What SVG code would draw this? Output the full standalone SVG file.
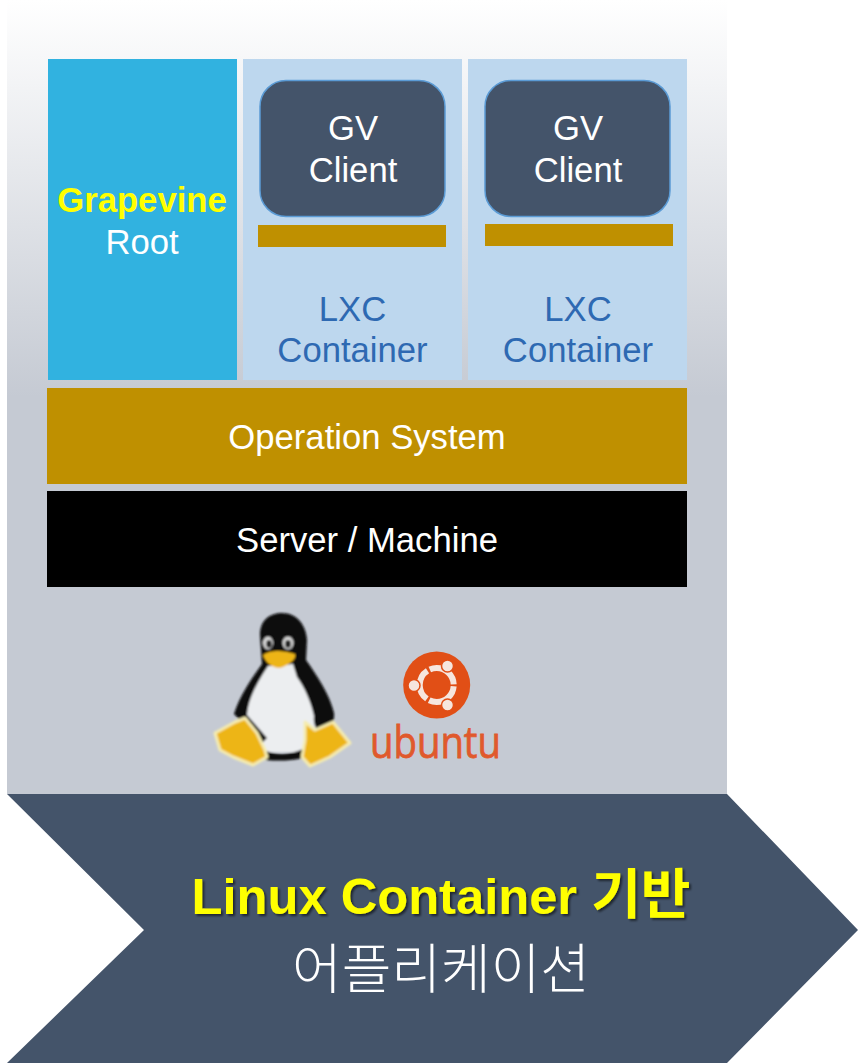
<svg xmlns="http://www.w3.org/2000/svg" width="858" height="1063" viewBox="0 0 858 1063">
<defs>
<linearGradient id="bg" x1="0" y1="0" x2="0" y2="1"><stop offset="0" stop-color="#ffffff"/><stop offset="0.5" stop-color="#c5cad3"/><stop offset="1" stop-color="#c5cad3"/></linearGradient>
<filter id="sh" x="-5%" y="-20%" width="110%" height="140%"><feDropShadow dx="2" dy="2" stdDeviation="1.2" flood-color="#000" flood-opacity="0.55"/></filter>
<filter id="blur" x="-10%" y="-10%" width="120%" height="120%"><feGaussianBlur stdDeviation="1"/></filter>
</defs>
<style>
text{font-family:"Liberation Sans","Noto Sans CJK KR",sans-serif;text-anchor:middle}
.w{fill:#fff}.b{fill:#2e69b2}.t{font-size:34.67px}.g{fill:#bf9000}.c{fill:#bdd7ee}
.cl{fill:#44546a;stroke:#5b9bd5;stroke-width:1.5}
.foot{fill:#edb514;stroke:#f5ecb0;stroke-width:3;stroke-linejoin:round}
.dot{fill:#f6e6de;stroke:#e14f16;stroke-width:1.5}
</style>
<rect id="background" x="7" y="0" width="720" height="794" fill="url(#bg)"/>
<g id="root"><rect x="48" y="59" width="189" height="321" fill="#31b2e0"/><text class="t" x="142" y="212" font-weight="700" fill="#ffff00">Grapevine</text><text class="w t" x="142" y="254">Root</text></g>
<g id="lxc1"><rect class="c" x="243" y="59" width="219" height="321"/><text class="b t" x="352.500" y="321">LXC</text><text class="b t" x="352.500" y="362">Container</text></g>
<g id="lxc2"><rect class="c" x="468" y="59" width="219" height="321"/><text class="b t" x="578" y="321">LXC</text><text class="b t" x="578" y="362">Container</text></g>
<g id="client1"><rect class="cl" x="260" y="80.500" width="185" height="136" rx="26"/><text class="w t" x="353" y="140">GV</text><text class="w t" x="353" y="182">Client</text><rect class="g" x="258" y="225" width="188" height="22"/></g>
<g id="client2"><rect class="cl" x="485" y="80.500" width="185" height="136" rx="26"/><text class="w t" x="578" y="140">GV</text><text class="w t" x="578" y="182">Client</text><rect class="g" x="485" y="224" width="188" height="22"/></g>
<g id="os"><rect class="g" x="47" y="388" width="640" height="96"/><text class="w t" x="367" y="449">Operation System</text></g>
<g id="server"><rect x="47" y="491" width="640" height="96" fill="#000"/><text class="w t" x="367" y="552">Server / Machine</text></g>
<g id="tux" filter="url(#blur)">
<path fill="#eceef0" d="M265 664L297 664L314 712L318 735L302 752L267 752L247 730L245 705Z"/>
<path fill="#0a0a0a" d="M260 635C260 619 271 613 282 613C296 613 306 624 307 640L306 660C316 674 330 695 334 713C335 722 330 730 322 731C316 731 313 724 314 716C311 702 305 688 297 677L293 664L268 666C256 684 248 700 247 715L267 738L262 743C254 736 244 724 234 714C240 695 252 678 262 664Z"/>
<path fill="#0a0a0a" d="M266 751C280 756 292 754 303 749V758C290 761 278 761 266 760Z"/>
<ellipse cx="268" cy="643" rx="5" ry="6.500" fill="#d8d8d8"/><ellipse cx="288" cy="643" rx="5.500" ry="6.500" fill="#d8d8d8"/>
<ellipse cx="269" cy="644" rx="2.800" ry="4" fill="#222"/><ellipse cx="288" cy="644" rx="3" ry="4" fill="#222"/>
<path fill="#edb514" d="M263 655C270 650 282 650 295 654C297 658 290 665 280 668C272 668 265 662 263 655Z"/>
<path class="foot" d="M215 733L235 722L245 718L257 733L265 750L267 757L253 765L233 757L220 750Z"/>
<path class="foot" d="M305 722L315 730L333 722L350 743L330 757L310 766L302 757L305 740Z"/>
</g>
<g id="ubuntu">
<circle cx="436.700" cy="685" r="33.500" fill="#e14f16"/>
<circle cx="436.700" cy="685" r="17" fill="none" stroke="#f6e6de" stroke-width="6" stroke-dasharray="33 2.600" stroke-dashoffset="-1.300"/>
<circle class="dot" cx="414" cy="685.500" r="6"/><circle class="dot" cx="447.500" cy="666" r="6"/><circle class="dot" cx="447.500" cy="705" r="6"/>
<text x="435.500" y="758" font-size="44" textLength="131" lengthAdjust="spacingAndGlyphs" stroke="#e0592c" stroke-width="0.8" style="font-family:'Open Sans',sans-serif" fill="#e0592c">ubuntu</text>
</g>
<g id="arrow"><path d="M7 794H727L858 930L727 1063H7L144 930Z" fill="#44546a"/>
<text x="441" y="914" font-size="50.670" font-weight="700" fill="#ffff00" filter="url(#sh)">Linux Container <tspan font-size="54">기반</tspan></text>
<text class="w" x="441" y="989" font-size="54" font-weight="300">어플리케이션</text></g>
</svg>
